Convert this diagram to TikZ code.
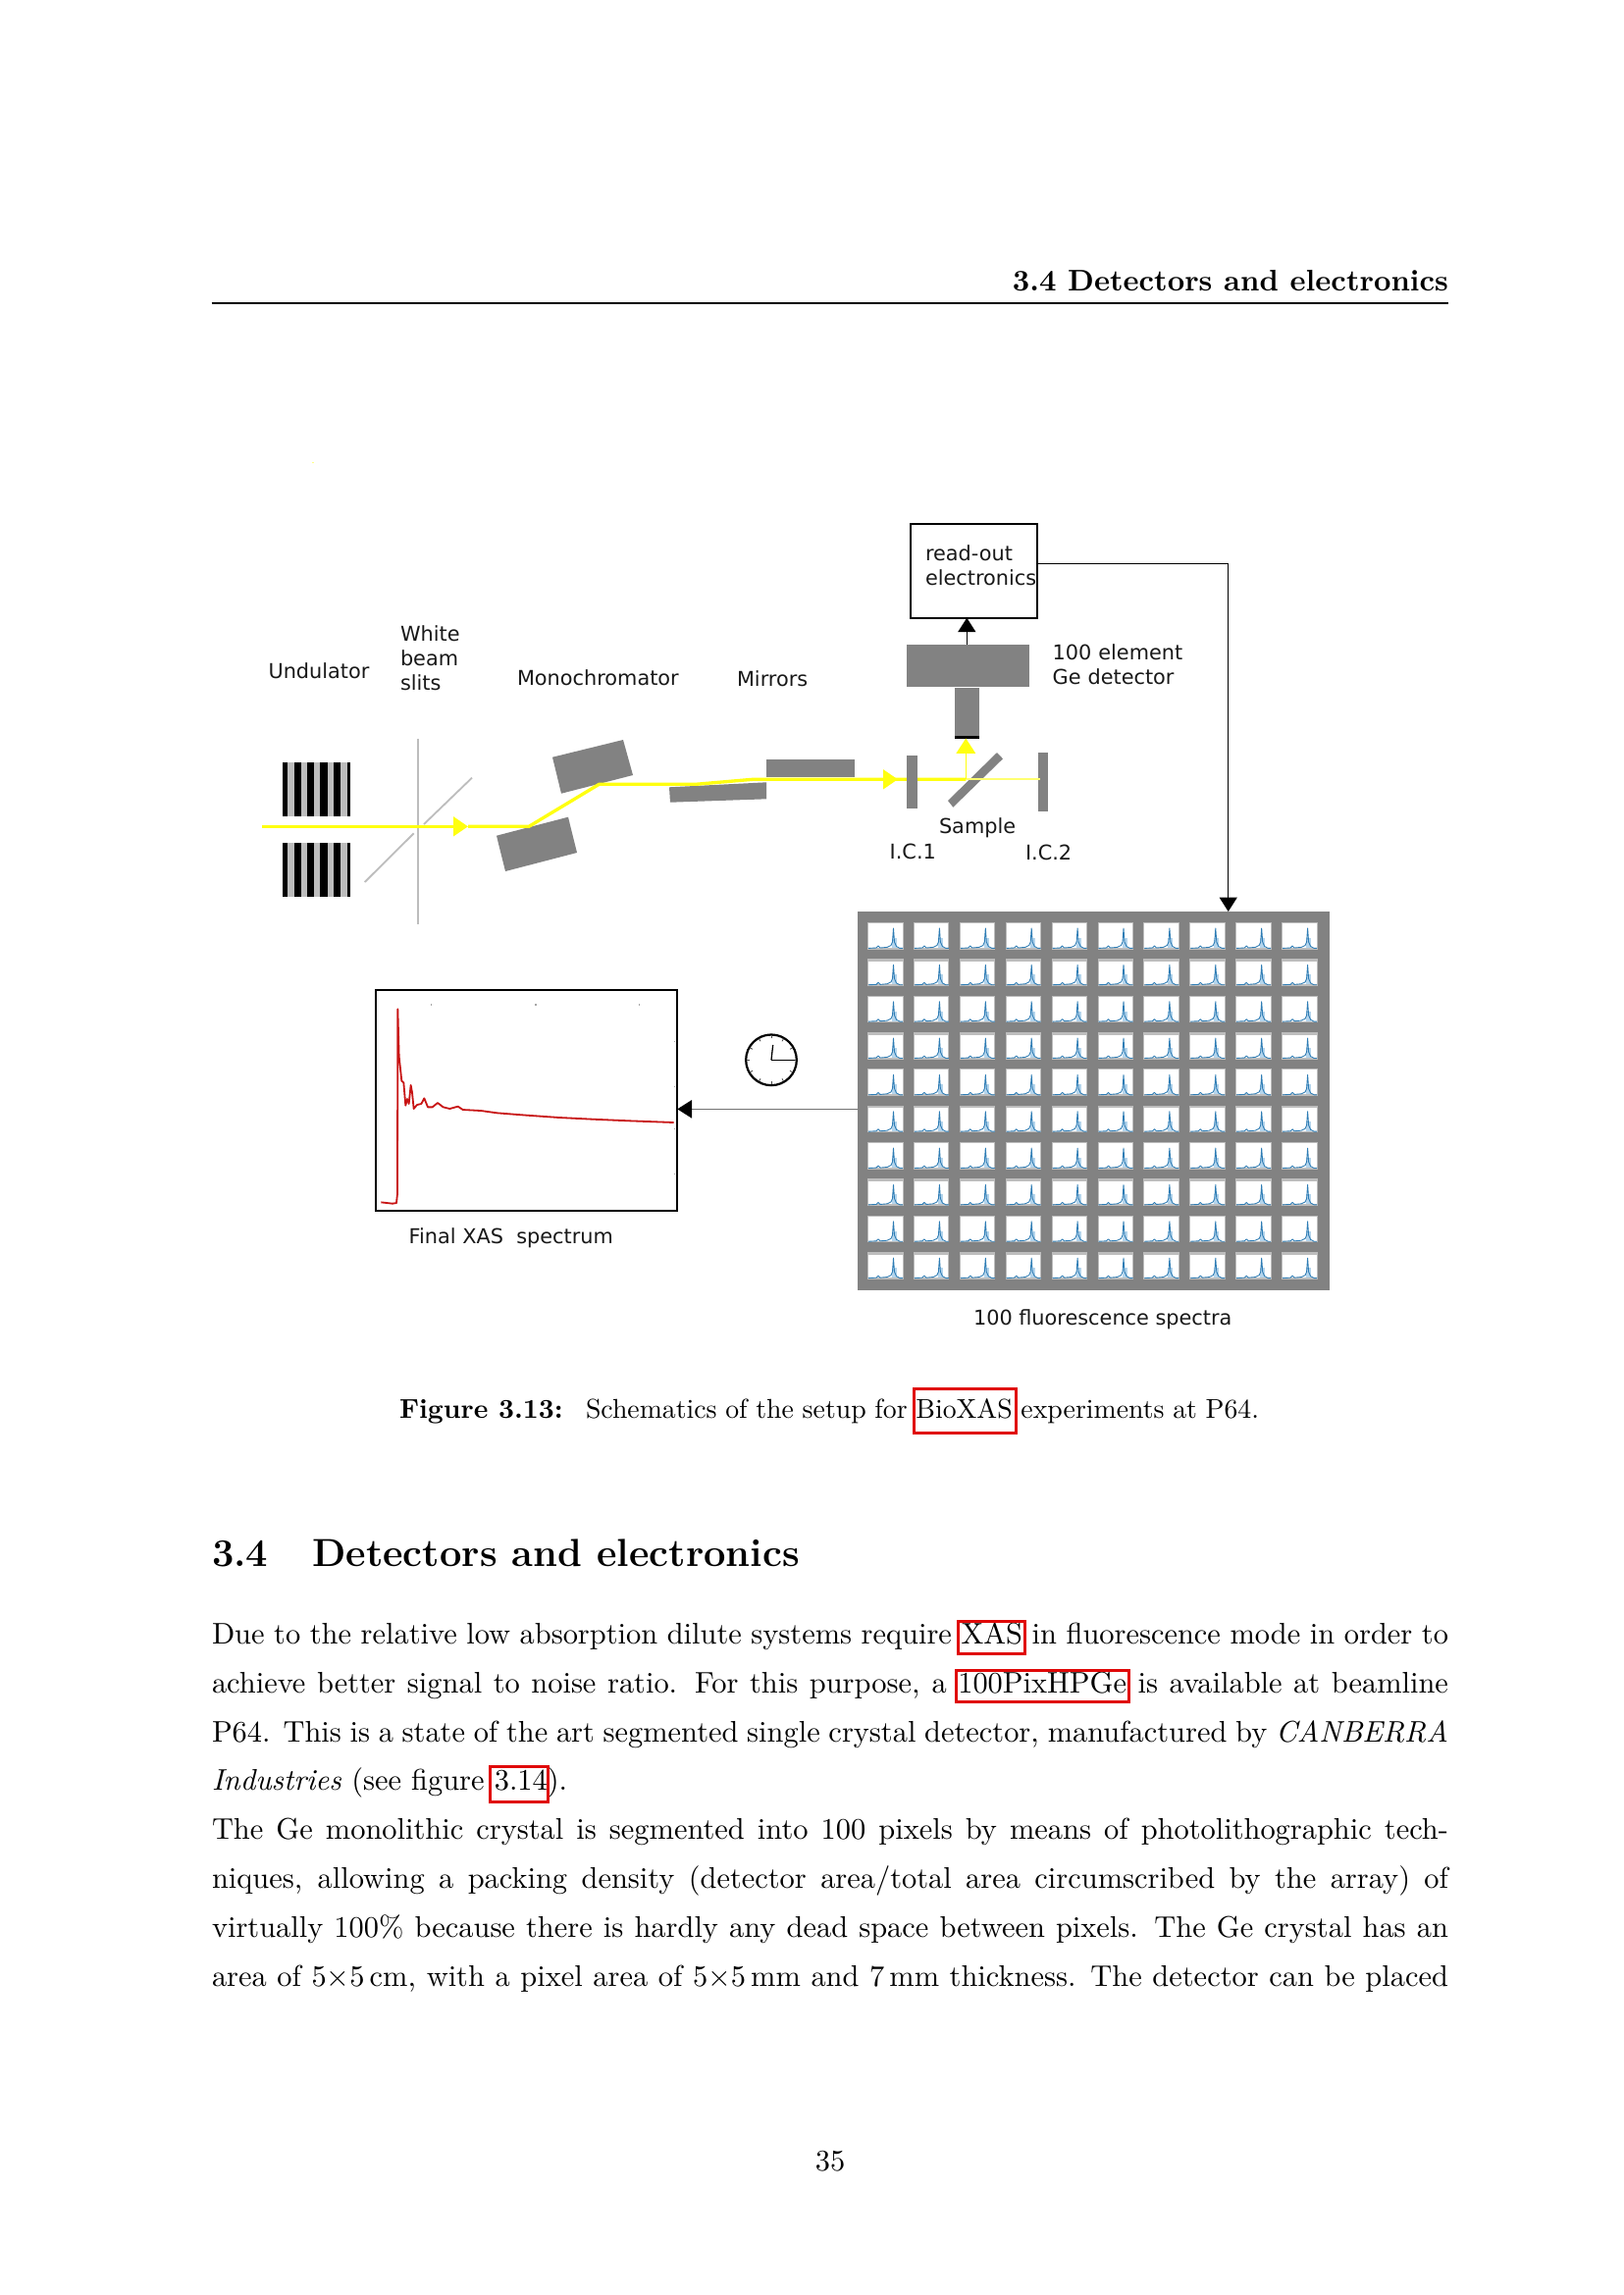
\documentclass[tikz,border=0pt]{standalone}
\usepackage{fontspec}
\usetikzlibrary{arrows.meta}
\newfontfamily\djv{DejaVu Sans}
\definecolor{panelgray}{HTML}{828282}
\definecolor{slitgray}{HTML}{BDBDBD}
\definecolor{beamyellow}{HTML}{FFFF10}
\definecolor{paleyellow}{HTML}{FFFF70}
\definecolor{linkred}{HTML}{E00808}
\definecolor{specblue}{HTML}{2F7DB5}
\definecolor{speclight}{HTML}{B5D5EC}
\definecolor{xasred}{HTML}{C81414}
\tikzset{
  pxbox/.style 2 args={minimum width=#1*0.36pt, minimum height=#2*0.36pt, inner sep=0pt, outer sep=0pt, anchor=center},
  solidbox/.style={fill=panelgray, draw=none},
  lbl/.style={font=\djv\fontsize{7.5}{9}\selectfont, inner sep=0pt, outer sep=0pt, anchor=base west, text=black!90},
  lblm/.style={lbl, text width=60pt, align=left},
  beam/.style={draw=beamyellow, line width=1.2pt},
  beamtip/.style={-{Triangle[length=5.4pt,width=7pt,fill=beamyellow,color=beamyellow]}},
  conn/.style={draw=black, line width=0.5pt, -{Triangle[length=5.2pt,width=6.5pt,fill=black]}},
  slit/.style={draw=slitgray, line width=0.65pt},
  body/.style={font=\fontsize{10.95}{15}\selectfont, inner sep=0pt, outer sep=0pt, anchor=base west},
  capt/.style={font=\fontsize{10}{13}\selectfont, inner sep=0pt, outer sep=0pt, anchor=base west},
  redbox/.style={draw=linkred, line width=0.95pt},
}
\newcommand{\lineto}[1]{\hbox to 453.6pt{#1}}
\begin{document}
\begin{tikzpicture}[x=0.36pt,y=-0.36pt]
\useasboundingbox (0,0) rectangle (1654,2339);
\fill[white] (0,0) rectangle (1654,2339);
% running head
\node[body, anchor=base east] (head) at (1476,296.7) {\bfseries 3.4 Detectors and electronics};
\draw[line width=0.6pt] (215.5,309) -- (1476,309);
\fill[beamyellow!50] (318,470.5) rectangle (320,472);
% slits
\draw[slit] (425.7,752.7) -- (425.7,941.7);
\draw[slit] (371.7,899) -- (421.7,849.3);
\draw[slit] (432,840) -- (481,792.7);
% undulator
\foreach \yy in {776.7,859}{
  \fill[slitgray] (288,\yy) rectangle (357,\yy+55);
  \foreach \xa/\xb in {288/293,300/306.5,313/320,326/334,340/347,354/357}
    \fill[black] (\xa,\yy) rectangle (\xb,\yy+55);
}
% monochromator and mirrors
\fill[panelgray] (563,771.7) -- (635,754) -- (645,790) -- (572,808.7) -- cycle;
\fill[panelgray] (506,851.7) -- (579,832.7) -- (588,869) -- (515,888) -- cycle;
\fill[panelgray] (781,774) rectangle (871,792.3);
\fill[panelgray] (682,802.3) -- (781,797.3) -- (781,814.3) -- (683,817.7) -- cycle;
% beam
\coordinate (b0) at (267,842.3);
\coordinate (b1) at (477,842.3);
\coordinate (b2) at (539,842.3);
\coordinate (b3) at (610.5,799.3);
\coordinate (b4) at (709,799.3);
\coordinate (b5) at (767,794.3);
\coordinate (b6) at (915,794.3);
\coordinate (b7) at (984.3,794.3);
\coordinate (b8) at (1060,794.3);
\draw[beam, beamtip] (b0) -- (b1);
\draw[beam, line join=round] (b1) -- (b2) -- (b3) -- (b4) -- (b5) -- (b6) -- (b7);
\draw[beam, beamtip] (b5) -- (b6);
% chambers, sample, detector
\node[solidbox, pxbox={11}{53.7}] (ic1) at (929.5,796.85) {};
\node[solidbox, pxbox={10}{59.7}] (ic2) at (1063,796.85) {};
\fill[panelgray] (966,816) -- (1016,767) -- (1022,773.3) -- (971.3,822.7) -- cycle;
\draw[draw=paleyellow, line width=0.7pt] (b7) -- (b8);
\node[solidbox, pxbox={125}{43}] (det) at (986.5,678.5) {};
\node[solidbox, pxbox={25}{49}] (snout) at (985.5,725.5) {};
\fill[black] (973,750) rectangle (998,753);
\draw[draw=beamyellow, line width=0.55pt, -{Triangle[length=5.5pt,width=7pt,fill=beamyellow,color=beamyellow]}] (b7) -- (984.3,752.5);
% read-out
\node[draw=black, line width=0.6pt, pxbox={129}{96}] (ro) at (992.8,581.7) {};
\draw[conn] ([xshift=-0.43pt]det.north) -- ([xshift=-0.43pt]det.north |- ro.south);
% spectra panel
\node[solidbox, pxbox={481}{386}] (spectra) at (1114.5,1122) {};
\foreach \r in {0,...,9}{
  \foreach \c in {0,...,9}{
    \begin{scope}[shift={(884+\c*46.9,940+\r*37.35)}]
      \fill[slitgray] (0,0) rectangle (36.5,27.5);
      \pgfmathsetmacro{\topb}{mod(\r,2)==1 ? 2.6 : 1}
      \fill[white] (1,\topb) rectangle (35.5,26);
      \fill[speclight] (25,16) rectangle (30,26);
      \draw[specblue, line width=0.32pt, line join=round] (1,26.4) -- (9,26) -- (11,24) -- (13,26) -- (20,25.4) -- (24,23.5) -- (25.5,20) -- (26.5,6) -- (27.5,20) -- (29.5,24.5) -- (33,26.4) -- (36,26.4);
    \end{scope}
  }
}
\draw[conn] ([yshift=2.65pt]ro.east) -| ([xshift=49.4pt]spectra.north);
% XAS spectrum box
\node[draw=black, line width=0.6pt, pxbox={307}{225}] (xas) at (536.8,1121.8) {};
\draw[draw=black!55, line width=0.5pt, -{Triangle[length=5.3pt,width=6.6pt,fill=black,color=black]}] ([yshift=-3.0pt]spectra.west) -- ([yshift=-3.0pt]spectra.west -| xas.east);
\begin{scope}[shift={(370,1000)},x=0.12pt,y=-0.12pt]
  \draw[xasred, line width=0.65pt, line join=round] (55,676) -- (90,680) -- (102,678) -- (105,650) -- (106,85) -- (110,230) -- (118,305) -- (124,310) -- (130,380) -- (135,360) -- (140,375) -- (146,318) -- (150,340) -- (155,390) -- (165,378) -- (178,375) -- (187,358) -- (198,385) -- (212,385) -- (228,372) -- (245,385) -- (265,390) -- (290,383) -- (305,393) -- (360,396) -- (410,403) -- (500,410) -- (600,417) -- (700,422) -- (815,427) -- (950,432);
  \foreach \px/\py in {208/72,528/72,844/72,952/185,952/322,952/452,952/590}
    \fill[black!35] (\px-2,\py-2) rectangle (\px+2,\py+2);
\end{scope}
% clock
\begin{scope}[shift={(786,1080.3)}]
  \draw[black, line width=0.8pt, fill=white] (0,0) circle[radius=9.3pt];
  \foreach \a in {0,30,...,330}
    \draw[black!70, line width=0.3pt] (\a:22) -- (\a:25);
  \draw[black, line width=0.45pt] (0,0) -- (1.7,-15.3);
  \draw[black, line width=0.3pt] (0,0) -- (24,0);
\end{scope}
% labels
\node[lbl] (und) at (273.5,691.7) {Undulator};
\node[lblm] (wbs) at (408,653) {White\\beam\\slits};
\node[lbl] (mono) at (527,698) {Monochromator};
\node[lbl] (mir) at (751,699) {Mirrors};
\node[lblm] (rotxt) at (943,571.7) {read-out\\electronics};
\node[lblm] (detxt) at (1072.7,672.3) {100 element\\Ge detector};
\node[lbl] (samp) at (957,849) {Sample};
\node[lbl] (ict1) at (906.7,875) {I.C.1};
\node[lbl] (ict2) at (1045,876.7) {I.C.2};
\node[lbl] (fin) at (416.7,1267.7) {Final XAS\ \ spectrum};
\node[lbl] (flu) at (992,1350.7) {100 fluorescence spectra};
% caption
\node[capt] (cap1) at (407,1445) {\textbf{Figure 3.13:}};
\node[capt] (cap2) at (597,1445) {\hbox to 247pt{Schematics of the setup for BioXAS experiments at P64.}};
\draw[redbox] (931.7,1415.5) rectangle (1035.5,1460.5);
% section
\node[body, font=\fontsize{14.35}{18}\selectfont\bfseries] (sec) at (216,1596) {3.4\hskip 1em\hskip 1.8pt Detectors and electronics};
% body text
\node[body] (l1) at (216,1675) {\lineto{Due to the relative low absorption dilute systems require XAS in fluorescence mode in order to}};
\node[body] (l2) at (216,1725) {\lineto{achieve better signal to noise ratio. For this purpose, a 100PixHPGe is available at beamline}};
\node[body] (l3) at (216,1775) {\lineto{P64. This is a state of the art segmented single crystal detector, manufactured by \textit{CANBERRA}}};
\node[body] (l4) at (216,1824.5) {\textit{Industries} (see figure 3.14).};
\node[body] (l5) at (216,1874.5) {\lineto{The Ge monolithic crystal is segmented into 100 pixels by means of photolithographic tech-}};
\node[body] (l6) at (216,1924.5) {\lineto{niques, allowing a packing density (detector area/total area circumscribed by the array) of}};
\node[body] (l7) at (216,1974.5) {\lineto{virtually 100\% because there is hardly any dead space between pixels. The Ge crystal has an}};
\node[body] (l8) at (216,2024.5) {\lineto{area of 5$\times$5\,cm, with a pixel area of 5$\times$5\,mm and 7\,mm thickness. The detector can be placed}};
\draw[redbox] (976.8,1652.2) rectangle (1044.5,1685.5);
\draw[redbox] (974.7,1702.5) rectangle (1150.2,1734.5);
\draw[redbox] (499.2,1800.2) rectangle (558.8,1836.5);
\node[body, anchor=base] (pg) at (846,2212) {35};
\end{tikzpicture}
\end{document}
